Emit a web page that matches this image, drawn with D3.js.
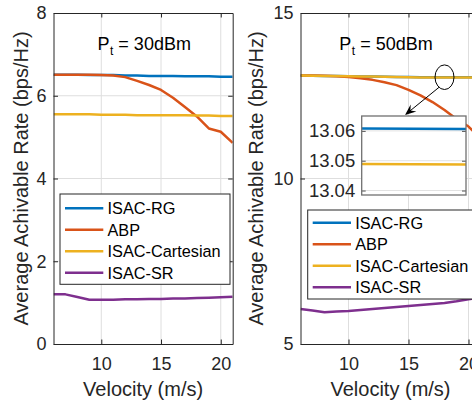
<!DOCTYPE html>
<html><head><meta charset="utf-8">
<script src="https://cdn.jsdelivr.net/npm/d3@7"></script>
<style>
html,body{margin:0;padding:0;background:#fff;}
svg{display:block;font-family:"Liberation Sans",Arial,Helvetica,sans-serif;}
</style></head><body>
<svg id="chart" width="472" height="400"></svg>
<script>
// ---------------- data ----------------
const velocity = [6,7,8,9,10,11,12,13,14,15,16,17,18,19,20,21];
const seriesNames = ["ISAC-RG","ABP","ISAC-Cartesian","ISAC-SR"];
const seriesColors = ["#0072BD","#D95319","#EDB120","#7E2F8E"];

// Pt = 30 dBm
const rg30   = [6.51,6.51,6.51,6.50,6.50,6.50,6.49,6.49,6.48,6.48,6.48,6.47,6.47,6.47,6.46,6.46];
const abp30  = [6.51,6.51,6.51,6.51,6.50,6.49,6.45,6.36,6.26,6.14,5.95,5.73,5.50,5.21,5.13,4.86];
const cart30 = [5.55,5.55,5.55,5.55,5.54,5.54,5.54,5.53,5.53,5.53,5.53,5.53,5.52,5.52,5.51,5.51];
const sr30   = [1.20,1.20,1.135,1.07,1.07,1.07,1.08,1.08,1.09,1.09,1.10,1.10,1.11,1.12,1.13,1.14];

// Pt = 50 dBm
const rg50   = [13.11,13.105,13.10,13.095,13.09,13.085,13.08,13.075,13.07,13.066,13.0609,13.0608,13.0607,13.0606,13.0605,13.0604];
const abp50  = [13.11,13.11,13.105,13.09,13.07,13.03,12.98,12.91,12.82,12.68,12.51,12.31,12.07,11.80,11.57,11.22];
const cart50 = [13.11,13.105,13.10,13.095,13.09,13.085,13.08,13.075,13.068,13.06,13.0492,13.0489,13.0488,13.0487,13.0486,13.0485];
const sr50   = [6.06,6.01,5.96,5.98,6.00,6.03,6.06,6.09,6.12,6.15,6.18,6.21,6.24,6.29,6.35,6.40];

const xTicks = [10,15,20];
const yTicks30 = [0,2,4,6,8];
const yTicks50 = [5,10,15];
const insetTicks = [13.04,13.05,13.06];
const titles = ["30dBm","50dBm"];
const xLabel = "Velocity (m/s)";
const yLabel = "Average Achivable Rate (bps/Hz)";

// ---------------- layout ----------------
const TXT = "#262626";
const svg = d3.select("#chart");
const panels = [
  {x0:53.5, x1:232.7, y0:13, y1:344, yDom:[0,8], yTicks:yTicks30, series:[rg30,abp30,cart30,sr30],
   title:titles[0], titleX:97.5, ylabX:27.6,
   leg:{x:60, y:194, w:170, h:90.3, first:14.3, step:19.45}},
  {x0:300.5, x1:480.5, y0:13, y1:344, yDom:[5,15], yTicks:yTicks50, series:[rg50,abp50,cart50,sr50],
   title:titles[1], titleX:339.3, ylabX:262.6,
   leg:{x:307.7, y:210, w:170, h:89, first:12.7, step:21.53}}
];
panels[0].leg.step = (272.7-208.3)/3;

panels.forEach((p,pi)=>{
  const x = d3.scaleLinear().domain([6,21]).range([p.x0,p.x1]);
  const y = d3.scaleLinear().domain(p.yDom).range([p.y1,p.y0]);
  p.x = x; p.y = y;
  const g = svg.append("g");

  // grid
  g.append("g").selectAll("line").data(xTicks).join("line")
    .attr("x1",d=>x(d)).attr("x2",d=>x(d)).attr("y1",p.y0).attr("y2",p.y1)
    .attr("stroke","#dedede").attr("stroke-width",1);
  g.append("g").selectAll("line").data(p.yTicks.filter(d=>d>p.yDom[0]&&d<p.yDom[1])).join("line")
    .attr("x1",p.x0).attr("x2",p.x1).attr("y1",d=>y(d)).attr("y2",d=>y(d))
    .attr("stroke","#dedede").attr("stroke-width",1);

  // lines
  const clipId = "clip"+pi;
  svg.append("clipPath").attr("id",clipId).append("rect")
    .attr("x",p.x0).attr("y",p.y0).attr("width",p.x1-p.x0).attr("height",p.y1-p.y0);
  const line = d3.line().x((d,i)=>x(velocity[i])).y(d=>y(d));
  const lg = g.append("g").attr("clip-path",`url(#${clipId})`);
  p.series.forEach((s,si)=>{
    lg.append("path").datum(s).attr("d",line).attr("fill","none")
      .attr("stroke",seriesColors[si]).attr("stroke-width",2.5).attr("stroke-linejoin","round");
  });

  // axes
  const styleAxis = sel=>{
    sel.select(".domain").attr("stroke",TXT).attr("stroke-width",1);
    sel.selectAll(".tick line").attr("stroke",TXT).attr("stroke-width",1);
    sel.selectAll(".tick text").attr("fill",TXT).attr("font-size",18)
      .attr("font-family","Liberation Sans, Arial, sans-serif");
    sel.attr("font-family",null).attr("font-size",null);
  };
  g.append("g").attr("transform",`translate(0,${p.y1})`)
    .call(d3.axisBottom(x).tickValues(xTicks).tickSizeInner(-4.5).tickSizeOuter(0).tickPadding(13)).call(styleAxis);
  g.append("g").attr("transform",`translate(0,${p.y0})`)
    .call(d3.axisTop(x).tickValues(xTicks).tickFormat(()=> "").tickSizeInner(-4.5).tickSizeOuter(0)).call(styleAxis);
  g.append("g").attr("transform",`translate(${p.x0},0)`)
    .call(d3.axisLeft(y).tickValues(p.yTicks).tickSizeInner(-4.5).tickSizeOuter(0).tickPadding(7)).call(styleAxis);
  g.append("g").attr("transform",`translate(${p.x1},0)`)
    .call(d3.axisRight(y).tickValues(p.yTicks).tickFormat(()=> "").tickSizeInner(-4.5).tickSizeOuter(0)).call(styleAxis);

  // axis labels
  g.append("text").attr("x",(p.x0+p.x1)/2).attr("y",396).attr("text-anchor","middle")
    .attr("font-size",20).attr("fill",TXT).text(xLabel);
  g.append("text").attr("transform",`translate(${p.ylabX},${(p.y0+p.y1)/2}) rotate(-90)`)
    .attr("text-anchor","middle").attr("font-size",20).attr("fill",TXT).text(yLabel);

  // title annotation
  const t = g.append("text").attr("x",p.titleX).attr("y",50).attr("font-size",18).attr("fill","#000");
  t.append("tspan").text("P");
  t.append("tspan").attr("font-size",12).attr("dy",5).attr("dx",0.5).text("t");
  t.append("tspan").attr("dy",-5).text("\u00a0= "+p.title);

  // legend
  const L = p.leg;
  const leg = g.append("g").attr("transform",`translate(${L.x},${L.y})`);
  leg.append("rect").attr("width",L.w).attr("height",L.h).attr("fill","#fff")
    .attr("stroke",TXT).attr("stroke-width",1);
  seriesNames.forEach((n,i)=>{
    const yy = L.first + i*L.step;
    leg.append("line").attr("x1",5).attr("x2",43.3).attr("y1",yy).attr("y2",yy)
      .attr("stroke",seriesColors[i]).attr("stroke-width",2.5);
    leg.append("text").attr("x",47.5).attr("y",yy).attr("dy","0.36em").attr("font-size",16.3)
      .attr("fill","#000").text(n);
  });
});

// ---------------- inset on the 50 dBm panel ----------------
const P = panels[1];
const ins = {x0:361.7, x1:466, y0:116, y1:195};
const xi = d3.scaleLinear().domain([17,19]).range([ins.x0,ins.x1]);
const yi = d3.scaleLinear().domain([13.0385,13.065]).range([ins.y1,ins.y0]);
const ig = svg.append("g");
ig.append("rect").attr("x",ins.x0).attr("y",ins.y0).attr("width",ins.x1-ins.x0).attr("height",ins.y1-ins.y0)
  .attr("fill","#fff");
ig.append("g").selectAll("line").data(insetTicks).join("line")
  .attr("x1",ins.x0).attr("x2",ins.x1).attr("y1",d=>yi(d)).attr("y2",d=>yi(d))
  .attr("stroke","#e2e2e2").attr("stroke-width",1);
svg.append("clipPath").attr("id","clipInset").append("rect")
  .attr("x",ins.x0).attr("y",ins.y0).attr("width",ins.x1-ins.x0).attr("height",ins.y1-ins.y0);
const iline = d3.line().defined((d,i)=>velocity[i]>=16&&velocity[i]<=20).x((d,i)=>xi(velocity[i])).y(d=>yi(d));
const ilg = ig.append("g").attr("clip-path","url(#clipInset)");
[[rg50,0],[cart50,2]].forEach(([s,ci])=>{
  ilg.append("path").datum(s).attr("d",iline).attr("fill","none")
    .attr("stroke",seriesColors[ci]).attr("stroke-width",2.5);
});
const iax = ig.append("g").attr("transform",`translate(${ins.x0},0)`)
  .call(d3.axisLeft(yi).tickValues(insetTicks).tickFormat(d3.format(".2f")).tickSizeInner(-4).tickSizeOuter(0).tickPadding(6.5));
iax.attr("font-family",null).attr("font-size",null);
iax.select(".domain").attr("stroke","none");
iax.selectAll(".tick line").attr("stroke","#555");
iax.selectAll(".tick text").attr("fill",TXT).attr("font-size",18.5);
const iax2 = ig.append("g").attr("transform",`translate(${ins.x1},0)`)
  .call(d3.axisRight(yi).tickValues(insetTicks).tickFormat(()=> "").tickSizeInner(-4).tickSizeOuter(0));
iax2.select(".domain").attr("stroke","none");
iax2.selectAll(".tick line").attr("stroke","#555");
ig.append("rect").attr("x",ins.x0).attr("y",ins.y0).attr("width",ins.x1-ins.x0).attr("height",ins.y1-ins.y0)
  .attr("fill","none").attr("stroke","#707070").attr("stroke-width",1.3);

// ellipse + arrow annotation
const cx = P.x(18), cy = P.y(13.06), rx = 9.5, ry = 12.3;
svg.append("ellipse").attr("cx",cx).attr("cy",cy).attr("rx",rx).attr("ry",ry)
  .attr("fill","none").attr("stroke","#000").attr("stroke-width",1);
const th = 125*Math.PI/180;
const S = [cx+rx*Math.cos(th), cy+ry*Math.sin(th)];
const T = [ins.x0+43.3, ins.y0-1];
const len = Math.hypot(T[0]-S[0],T[1]-S[1]);
const u = [(T[0]-S[0])/len,(T[1]-S[1])/len], n = [-u[1],u[0]];
const pt = (a,b)=>[T[0]+a*u[0]+b*n[0], T[1]+a*u[1]+b*n[1]];
svg.append("line").attr("x1",S[0]).attr("y1",S[1]).attr("x2",pt(-6,0)[0]).attr("y2",pt(-6,0)[1])
  .attr("stroke","#000").attr("stroke-width",1);
svg.append("polygon").attr("points",[T,pt(-11,4.5),pt(-7,0),pt(-11,-4.5)].map(q=>q.join(",")).join(" "))
  .attr("fill","#000");
</script>
</body></html>
